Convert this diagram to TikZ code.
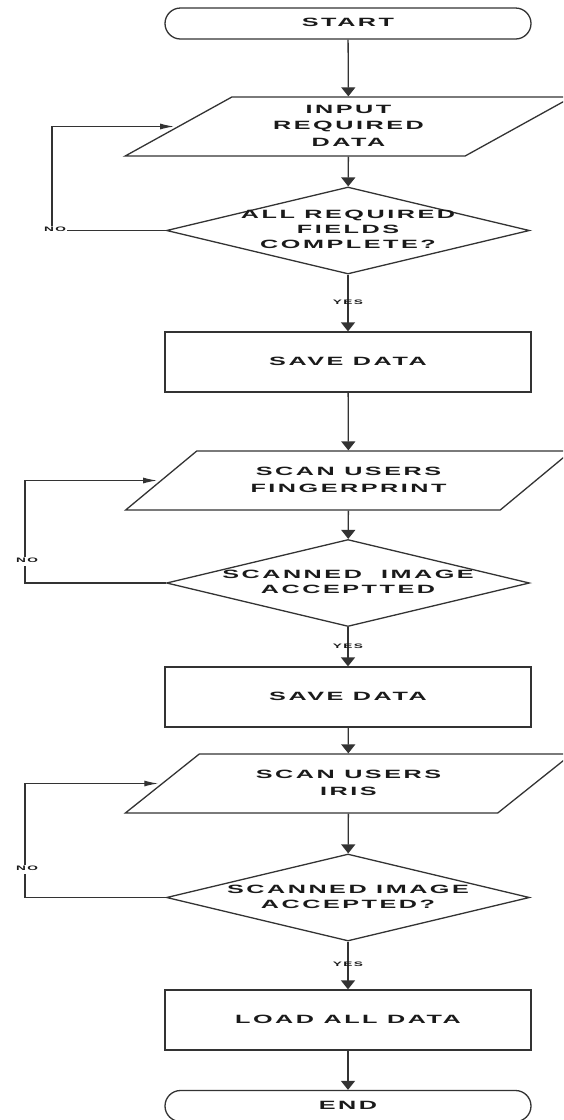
\documentclass[tikz,border=0pt]{standalone}
\usepackage{fontspec}
\newfontfamily\flowfont{Liberation Sans}[LetterSpace=10]
\usetikzlibrary{shapes.geometric,shapes.misc,arrows.meta}
\definecolor{ln}{HTML}{333333}
\definecolor{tx}{HTML}{1A1A1A}
\newcommand{\wt}[1]{\scalebox{2.1}[1]{\begin{tabular}{@{}c@{}}#1\end{tabular}}}
\tikzset{
  base/.style={draw=ln, line width=1.3pt, inner sep=0pt, text=tx, align=center,
    font=\flowfont\bfseries\fontsize{12}{16.5}\selectfont},
  term/.style={base, rectangle, rounded corners=15.5pt, minimum width=366pt, minimum height=31pt},
  io/.style={base, trapezium, trapezium left angle=35.7, trapezium right angle=144.3,
    trapezium stretches=true, minimum width=447pt, minimum height=59pt},
  proc/.style={base, rectangle, minimum width=366pt, minimum height=60pt},
  dec/.style={base, diamond, minimum width=363pt, minimum height=87pt},
  dtext/.style={text=tx, align=center, inner sep=0pt,
    font=\flowfont\bfseries\fontsize{12}{15}\selectfont},
  flow/.style={draw=ln, line width=1.3pt, -{Triangle[length=9pt,width=14pt]}},
  back/.style={draw=ln, line width=1.3pt, -{Latex[length=14pt,width=6pt]}, shorten >=3pt},
  small/.style={text=tx, inner sep=1pt, font=\flowfont\bfseries\fontsize{6.5}{7}\selectfont},
}
\begin{document}
\begin{tikzpicture}[x=1pt,y=-1pt]
\useasboundingbox (0,0) rectangle (563,1120);
\clip (0,0) rectangle (563,1120);
\fill[white] (0,0) rectangle (563,1120);

\node[term] (start) at (348,23.5) {\wt{START}};
\node[io]   (p1) at (348.5,126.5) {\wt{INPUT\\REQUIRED\\DATA}};
\node[dec, label={[dtext]center:{\wt{ALL REQUIRED\\FIELDS\\COMPLETE?}}}] (d1) at (348,230.5) {};
\node[proc] (s1) at (348,362) {\wt{SAVE DATA}};
\node[io]   (p2) at (348.5,480.5) {\wt{SCAN USERS\\FINGERPRINT}};
\node[dec, label={[dtext]center:{\wt{SCANNED\ \ IMAGE\\ACCEPTTED}}}] (d2) at (348,583) {};
\node[proc] (s2) at (348,697) {\wt{SAVE DATA}};
\node[io]   (p3) at (348.5,783.5) {\wt{SCAN USERS\\IRIS}};
\node[dec, label={[dtext]center:{\wt{SCANNED IMAGE\\ACCEPTED?}}}] (d3) at (348,897.5) {};
\node[proc] (s3) at (348,1020) {\wt{LOAD ALL DATA}};
\node[term] (end) at (348,1106) {\wt{END}};

\draw[flow] (start) -- (p1);
\draw[flow] (p1) -- (d1);
\draw[flow] (d1) -- node[small] (y1) {\wt{YES}} (s1);
\draw[flow] (s1) -- (p2);
\draw[flow] (p2) -- (d2);
\draw[flow] (d2) -- node[small] (y2) {\wt{YES}} (s2);
\draw[flow] (s2) -- (p3);
\draw[flow] (p3) -- (d3);
\draw[flow] (d3) -- node[small] (y3) {\wt{YES}} (s3);
\draw[flow] (s3) -- (end);

\coordinate (c1) at (52,230.5);
\coordinate (c2) at (25,583);
\coordinate (c3) at (25,897.5);
\draw[back] (d1.west) -- (c1) |- (p1.west);
\draw[back] (d2.west) -- (c2) |- (p2.west);
\draw[back] (d3.west) -- (c3) |- (p3.west);
\node[small, fill=white] (no1) at (55,230.5) {\wt{NO}};
\node[small, fill=white] (no2) at (27,561) {\wt{NO}};
\node[small, fill=white] (no3) at (27,869) {\wt{NO}};
\end{tikzpicture}
\end{document}
